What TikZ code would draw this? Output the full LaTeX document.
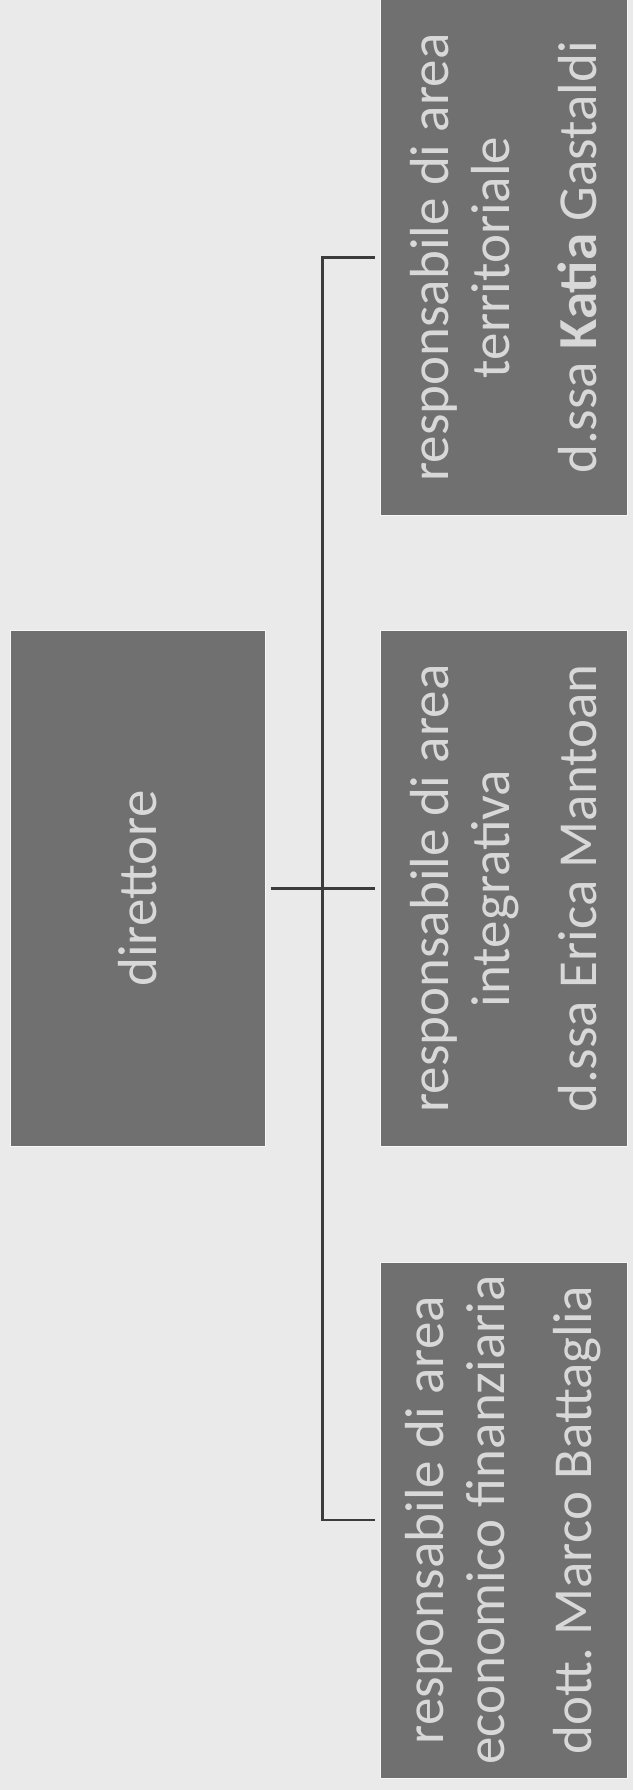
\documentclass[tikz,border=0pt]{standalone}
\usepackage{xcolor}
\usepackage{fontspec}
\setmainfont{Carlito}
\usepackage{tikz}
\usetikzlibrary{positioning}

\definecolor{boxgrey}{RGB}{112,112,112}
\definecolor{txtgrey}{RGB}{216,216,216}
\definecolor{bggrey}{RGB}{234,234,234}
\definecolor{linegrey}{RGB}{60,60,60}

\begin{document}
\begin{tikzpicture}[x=1pt,y=-1pt,
  ruolo/.style={rotate=90, fill=boxgrey, draw=white!60!bggrey, line width=1pt, text=txtgrey, inner sep=0pt, minimum width=516pt, minimum height=247pt, align=center, font=\fontsize{55}{61}\selectfont},
  ramo/.style={draw=linegrey, line width=2.2pt}]

\fill[bggrey] (0,0) rectangle (633,1790);
\useasboundingbox (0,0) rectangle (633,1790);

\node[ruolo, minimum height=255pt](dir) at (137.5,888.5) {direttore};

\node[ruolo](terr) at (503.5,257.5) {responsabile di area\\ territoriale\\[26pt] d.ssa \textbf{Katia} Gastaldi};
\node[ruolo](integ) at (503.5,888.5) {responsabile di area\\ integrativa\\[26pt] d.ssa Erica Mantoan};
\node[ruolo](econ) at (503.5,1520) {responsabile di area\\ economico finanziaria\\[26pt] dott.\ Marco Battaglia};


\draw[ramo, shorten <=5pt, shorten >=5pt] (terr.north) -- ++(-57,0) |- (econ.north);
\draw[ramo, shorten <=5pt, shorten >=5pt] (dir.south) -- (integ.north);

\end{tikzpicture}
\end{document}
